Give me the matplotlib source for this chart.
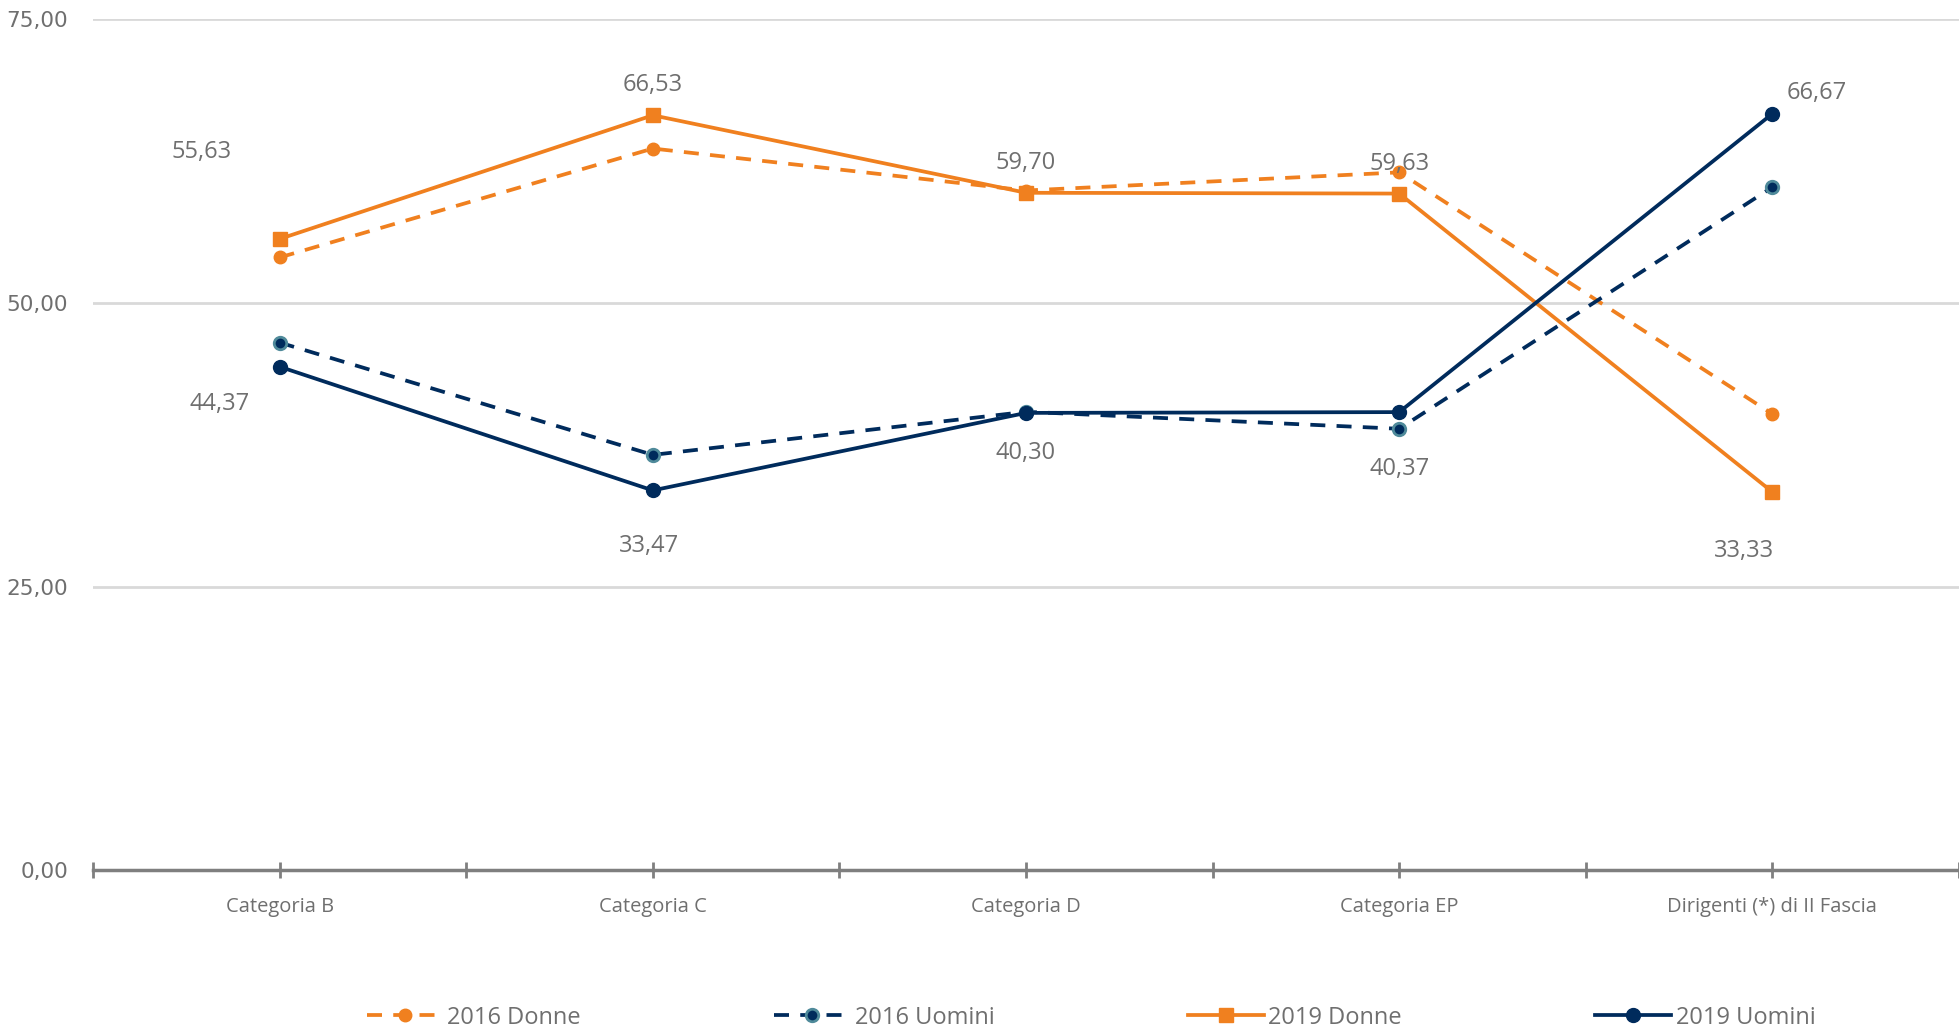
import matplotlib.pyplot as plt
import numpy as np

categorie = ["Categoria B", "Categoria C", "Categoria D", "Categoria EP", "Dirigenti (*) di II Fascia"]
donne_2016 = [54.0, 63.6, 59.9, 61.5, 40.2]
uomini_2016 = [46.5, 36.6, 40.4, 38.9, 60.2]
donne_2019 = [55.63, 66.53, 59.70, 59.63, 33.33]
uomini_2019 = [44.37, 33.47, 40.30, 40.37, 66.67]

arancio = "#F0801F"
blu = "#002B5C"
grigio = "#6F6F6F"

fig = plt.figure(figsize=(19.59, 10.31), dpi=100)
ax = fig.add_axes([0.0475, 0.156, 0.9525, 0.8254])

x = np.arange(len(categorie))

ax.plot(x, donne_2016, color=arancio, lw=2.7, ls=(0, (4, 3)), marker="o", ms=9,
        label="2016 Donne", zorder=3)
ax.plot(x, uomini_2016, color=blu, lw=2.7, ls=(0, (4, 3)), marker="o", ms=9,
        mfc=blu, mec="#4F8A9A", mew=2, label="2016 Uomini", zorder=3)
ax.plot(x, donne_2019, color=arancio, lw=2.7, marker="s", ms=10,
        label="2019 Donne", zorder=4)
ax.plot(x, uomini_2019, color=blu, lw=2.7, marker="o", ms=10,
        label="2019 Uomini", zorder=4)

def fmt(v):
    return ("%.2f" % v).replace(".", ",")

# etichette dati (come nel grafico originale)
off_d = [(-0.21, 7.7), (0, 2.7), (0, 2.6), (0, 2.6), (-0.075, -5.2)]
off_u = [(-0.16, -3.3), (-0.01, -4.9), (0, -3.5), (0, -5.0), (0.12, 1.8)]
for i in range(len(categorie)):
    ax.text(x[i] + off_d[i][0], donne_2019[i] + off_d[i][1], fmt(donne_2019[i]),
            ha="center", va="center", fontsize=17, color=grigio, family="Open Sans", zorder=5)
    ax.text(x[i] + off_u[i][0], uomini_2019[i] + off_u[i][1], fmt(uomini_2019[i]),
            ha="center", va="center", fontsize=17, color=grigio, family="Open Sans", zorder=5)

ax.set_ylim(0, 75)
ax.set_yticks([0, 25, 50, 75])
ax.set_yticklabels([fmt(v) for v in [0, 25, 50, 75]], family="DejaVu Sans",
                   fontsize=15.5, color=grigio)
ax.set_xlim(-0.5, 4.472)
ax.set_xticks(x)
ax.set_xticklabels(categorie, family="Open Sans", fontsize=14.5, color=grigio)
ax.set_xticks(np.arange(-0.5, 5, 1), minor=True)

ax.grid(axis="y", color="#D9D9D9", lw=2)
ax.set_axisbelow(True)
for s in ["top", "right", "left"]:
    ax.spines[s].set_visible(False)
ax.spines["bottom"].set_color("#7F7F7F")
ax.spines["bottom"].set_linewidth(2.5)
ax.tick_params(axis="y", length=0, pad=18)
ax.tick_params(axis="x", which="both", direction="inout", length=11, width=2,
               color="#7F7F7F", pad=14)

leg = fig.legend(loc="center", bbox_to_anchor=(0.557, 0.013), ncol=4, frameon=False,
                 prop={"family": "Open Sans", "size": 17}, handlelength=3.2,
                 columnspacing=8.2, handletextpad=0.2, labelcolor=grigio)

fig.savefig("out.png", dpi=100)
